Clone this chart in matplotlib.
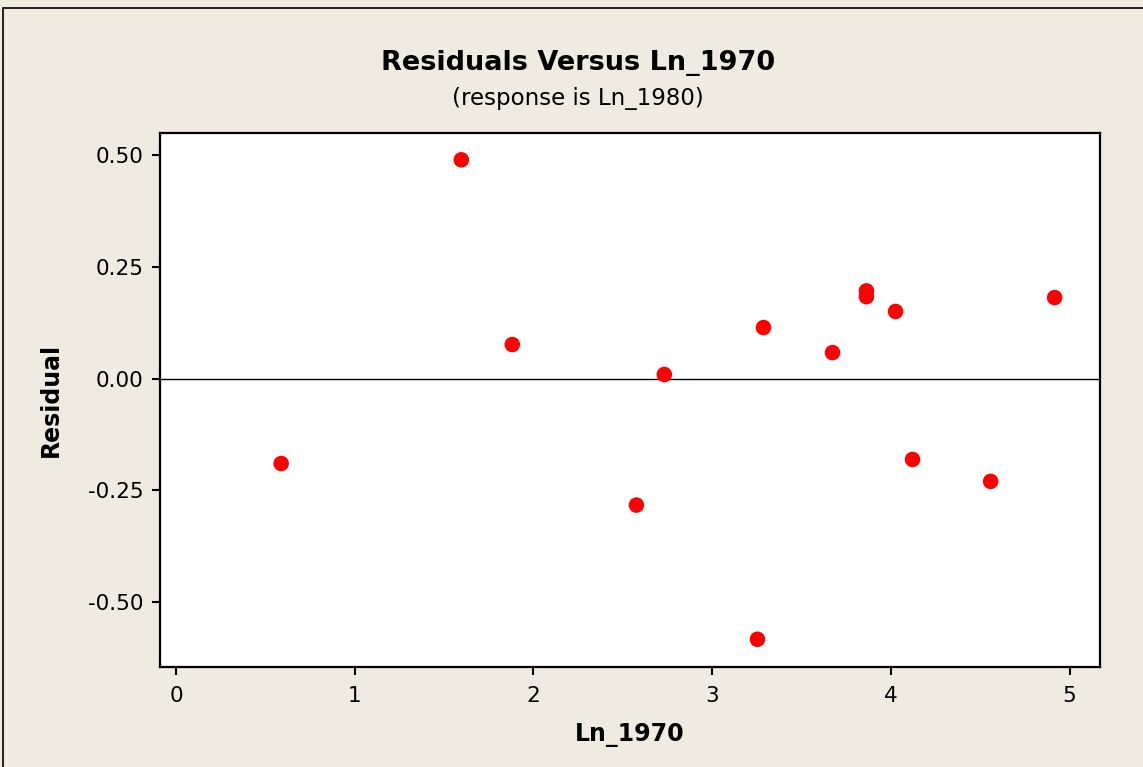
import matplotlib
matplotlib.use("Agg")
import matplotlib.pyplot as plt
from matplotlib.patches import Rectangle
from matplotlib.ticker import FuncFormatter

plt.rcParams['axes.unicode_minus'] = False

ln_1970 = [0.588, 1.596, 1.881, 2.576, 2.732, 3.253, 3.287, 3.673, 3.863, 3.863, 4.026, 4.121, 4.558, 4.916]
residual = [-0.190, 0.489, 0.076, -0.283, 0.009, -0.583, 0.114, 0.058, 0.196, 0.183, 0.150, -0.181, -0.230, 0.181]
x_ticks = [0, 1, 2, 3, 4, 5]
y_ticks = [-0.50, -0.25, 0.00, 0.25, 0.50]

bg = '#EFEBE1'
fig = plt.figure(figsize=(11.43, 7.67), dpi=100, facecolor=bg)
fig.patches.append(Rectangle((3/1143, -0.01), 1.5, 1 - 8/767 + 0.01, transform=fig.transFigure,
                             fill=False, edgecolor='black', linewidth=1.2))
ax = fig.add_axes([160/1143, 1 - 667/767, 940/1143, 534/767])
ax.set_facecolor('white')
ax.scatter(ln_1970, residual, s=125, color='#FF0000', edgecolors='none', zorder=3)
ax.axhline(0, color='black', linewidth=1.0, zorder=2)
ax.set_xlim(-0.09, 5.17)
ax.set_ylim(-0.645, 0.549)
ax.set_xticks(x_ticks)
ax.set_yticks(y_ticks)
ax.yaxis.set_major_formatter(FuncFormatter(lambda v, p: f"{v:.2f}"))
for s in ax.spines.values():
    s.set_linewidth(1.6)
ax.tick_params(direction='out', length=6, width=1.5, labelsize=15.5, pad=6)
ax.tick_params(axis='x', pad=8)
ax.set_xlabel('Ln_1970', fontsize=17, fontweight='bold', labelpad=12)
ax.set_ylabel('Residual', fontsize=17, fontweight='bold', labelpad=18)
cx = 578 / 1143
fig.text(cx, 1 - 63/767, 'Residuals Versus Ln_1970', fontsize=19.5,
         fontweight='bold', ha='center', va='center')
fig.text(cx, 1 - 99/767, '(response is Ln_1980)', fontsize=16.5,
         ha='center', va='center')
fig.savefig('out.png', dpi=100, facecolor=bg)
